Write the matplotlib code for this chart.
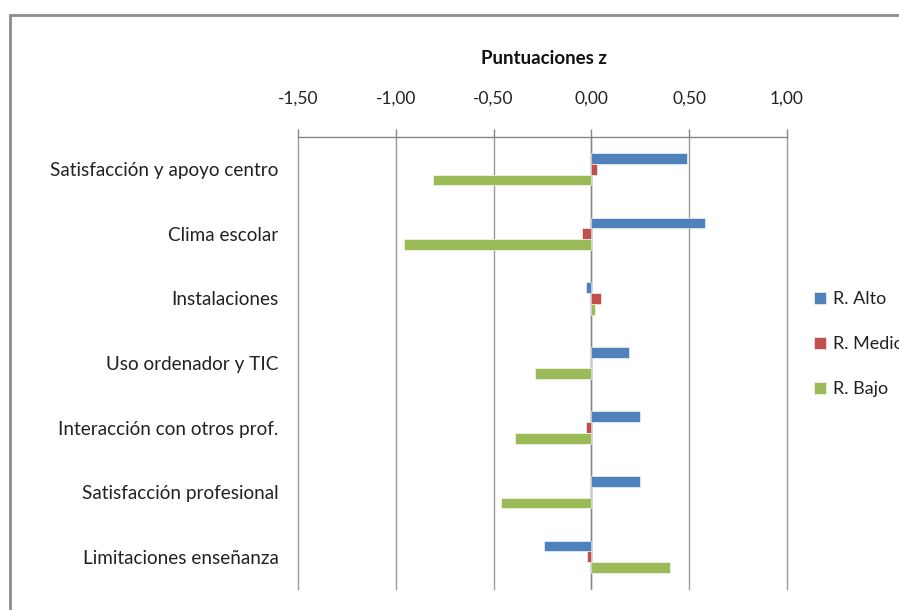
import matplotlib
matplotlib.use("Agg")
import matplotlib.pyplot as plt
from matplotlib.patches import Rectangle
from matplotlib.ticker import FuncFormatter, FixedLocator
import numpy as np

categories = ["Satisfacción y apoyo centro", "Clima escolar", "Instalaciones",
              "Uso ordenador y TIC", "Interacción con otros prof.",
              "Satisfacción profesional", "Limitaciones enseñanza"]
series_names = ["R. Alto", "R. Medio", "R. Bajo"]
r_alto = [0.49, 0.58, -0.03, 0.19, 0.25, 0.25, -0.24]
r_medio = [0.03, -0.05, 0.05, 0.0, -0.03, 0.0, -0.02]
r_bajo = [-0.81, -0.96, 0.02, -0.29, -0.39, -0.46, 0.40]
x_ticks = [-1.5, -1.0, -0.5, 0.0, 0.5, 1.0]
title = "Puntuaciones z"

colors = ["#4F81BD", "#C0504D", "#9BBB59"]
plt.rcParams['font.family'] = ['Lato', 'DejaVu Sans']

fig = plt.figure(figsize=(8.99, 6.10), dpi=100)
W, H = 899, 610
ax = fig.add_axes([298 / W, 1 - 589 / H, (787 - 298) / W, (589 - 137) / H])

y = np.arange(len(categories))
h = 0.167
for k, (vals, c, name) in enumerate(zip([r_alto, r_medio, r_bajo], colors, series_names)):
    ax.barh(y + (k - 1) * h, vals, height=h, color=c, label=name, zorder=3,
            edgecolor='white', linewidth=0.4)

ax.set_xlim(-1.5, 1.0)
ax.set_ylim(len(categories) - 0.5, -0.5)
ax.xaxis.set_major_locator(FixedLocator(x_ticks))
ax.xaxis.set_major_formatter(FuncFormatter(lambda v, p: f"{v:.2f}".replace('.', ',')))
ax.xaxis.tick_top()
ax.tick_params(axis='x', direction='out', length=6, width=1, color='#868686',
               pad=16, labelsize=12.5, labelcolor='#222222')
ax.set_yticks(y)
ax.set_yticklabels(categories)
ax.tick_params(axis='y', length=0, pad=14, labelsize=13.6, labelcolor='#222222')

for xv in x_ticks:
    ax.axvline(xv, color='#9A9A9A', linewidth=1, zorder=0, clip_on=False)
ax.axvline(0, color='#868686', linewidth=1, zorder=2)
for s in ['left', 'right', 'bottom']:
    ax.spines[s].set_visible(False)
ax.spines['top'].set_color('#868686')
ax.spines['top'].set_linewidth(1)

fig.text(544 / W, 1 - 58 / H, title, ha='center', va='center',
         fontsize=13.5, fontweight='bold', color='#111111')

fig.legend(loc='center left', bbox_to_anchor=(798 / W, 1 - 344 / H), frameon=False,
           fontsize=13, handlelength=0.65, handleheight=0.65, handletextpad=0.4,
           labelspacing=1.6, labelcolor='#222222')

frame = Rectangle((10 / W, -0.1), 1.2, 1 - 15 / H + 0.1, transform=fig.transFigure,
                  fill=False, edgecolor='#8C8C8C', linewidth=2, clip_on=False)
fig.patches.append(frame)

fig.savefig("out.png", dpi=100)
